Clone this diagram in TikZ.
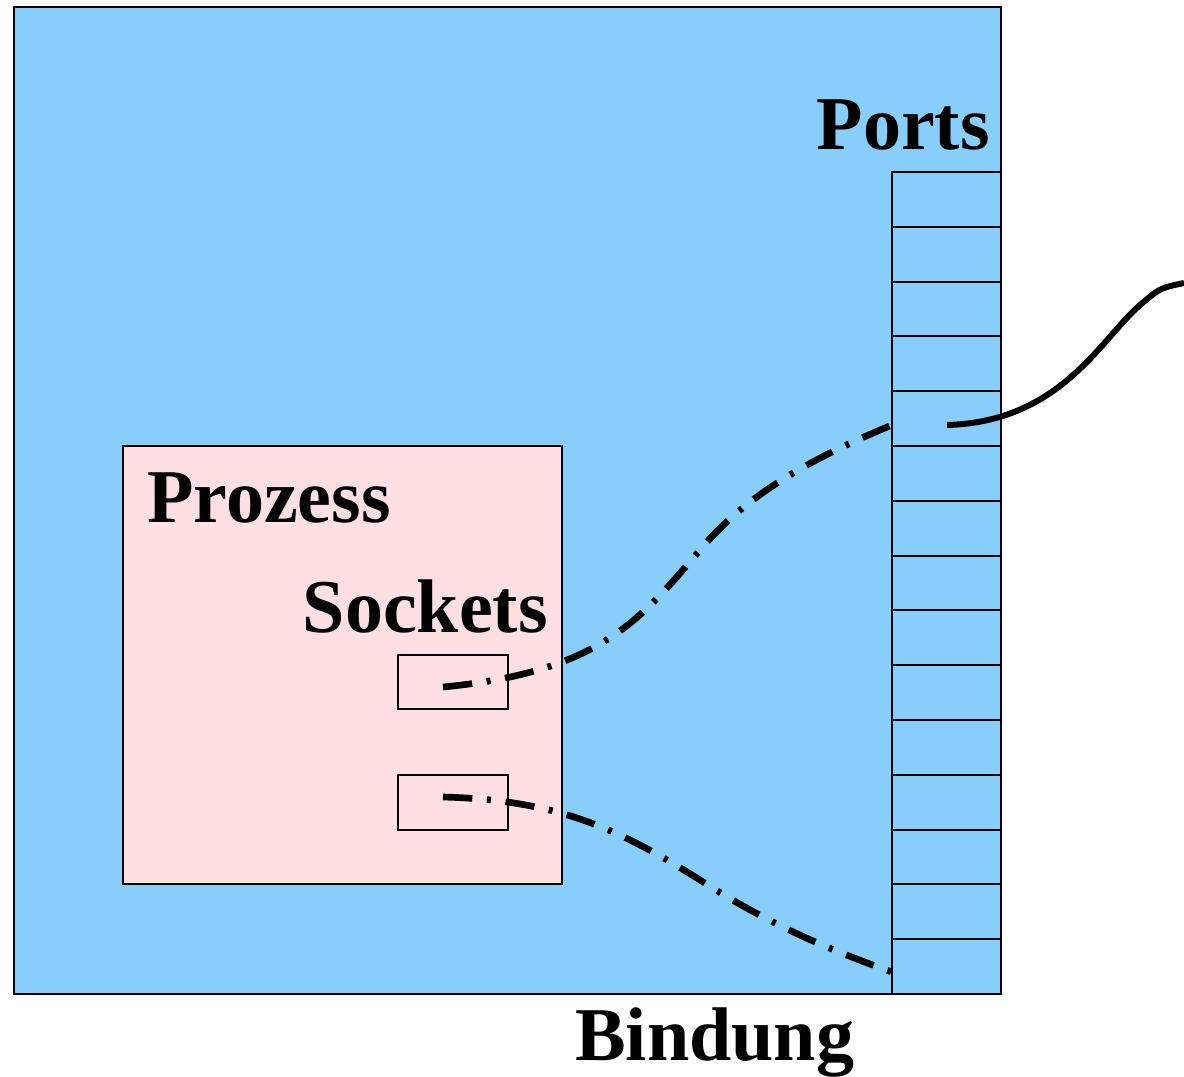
\documentclass[tikz,border=0pt]{standalone}
\usepackage{fontspec}
\setmainfont{Liberation Serif}
\begin{document}
\begin{tikzpicture}[x=0.75pt,y=-0.75pt,
  thin line/.style={draw=black,line width=1.4pt},
  label text/.style={font=\fontsize{57}{68}\selectfont\bfseries,inner sep=0pt},
  dashdotline/.style={line width=5pt,dash pattern=on 22pt off 11pt on 3pt off 11pt},
  solidline/.style={line width=4.5pt}]
\definecolor{hostblue}{HTML}{87CEFA}
\definecolor{procpink}{HTML}{FFE0E2}
\useasboundingbox (0,0) rectangle (1184,1077);
% host
\filldraw[fill=hostblue,thin line] (14,7) rectangle (1001,994);
\coordinate (host) at (507,500);
% process
\filldraw[fill=procpink,thin line] (123,446) rectangle (562,884);
% sockets
\draw[thin line] (398,655) rectangle (508,709);
\draw[thin line] (398,775) rectangle (508,830);
\coordinate (s1) at (443,687);
\coordinate (s2) at (443,797);
% ports
\foreach \i in {0,...,14}{
  \draw[thin line] (892,{172+\i*54.8}) rectangle (1001,{172+(\i+1)*54.8});
}
\coordinate (p5left) at (892,425);
\coordinate (p5in) at (947,425);
\coordinate (p15left) at (892,972);
\coordinate (outside) at (1184,283);
% labels
\node[label text,anchor=base east] (ports) at (990,150) {Ports};
\node[label text,anchor=base west] (prozess) at (147,522) {Prozess};
\node[label text,anchor=base east] (sockets) at (548,632) {Sockets};
\node[label text,anchor=base west] (bindung) at (575,1060) {Bindung};
% connections
\draw[solidline] (p5in) .. controls (1060,422) and (1100,340) .. (1140,305) .. controls (1160,288) .. (outside);
\draw[dashdotline] (s1) .. controls (600,672) and (640,620) .. (700,550) .. controls (750,490) and (820,455) .. (p5left);
\draw[dashdotline] (s2) .. controls (560,800) and (620,830) .. (700,880) .. controls (770,925) and (830,950) .. (p15left);
\end{tikzpicture}
\end{document}
